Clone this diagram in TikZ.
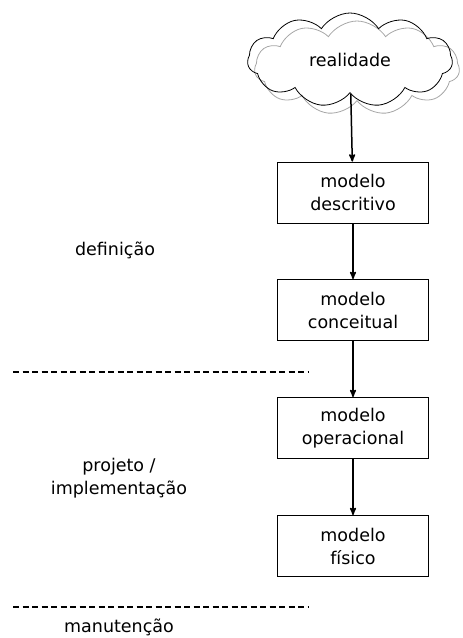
\documentclass[tikz,border=0pt]{standalone}
\usepackage{fontspec}
\setmainfont{DejaVu Sans}
\usepackage{tikz}
\usetikzlibrary{arrows, shapes.symbols}

\begin{document}
\begin{tikzpicture}[x=1pt,y=-1pt,
	modelbox/.style={draw, line width=0.8pt, minimum width=151pt, minimum height=61pt, align=center, font=\fontsize{17.5}{23}\selectfont},
	fase/.style={align=center, font=\fontsize{17.5}{23}\selectfont},
	divisa/.style={line width=1.6pt, dash pattern=on 6pt off 3.5pt}]
		\useasboundingbox (0,0) rectangle (463,638);

		% nuvem com sombra cinza
		\node(sombra) [cloud, cloud puffs=11, cloud puff arc=115, aspect=2.1, draw=gray!70, line width=0.8pt, minimum width=205pt, minimum height=94pt] at (357,68) {};
		\node(real) [cloud, cloud puffs=11, cloud puff arc=115, aspect=2.1, draw, line width=0.8pt, minimum width=205pt, minimum height=94pt, font=\fontsize{17.5}{23}\selectfont] at (350,60) {realidade};

		\node(desc)  [modelbox] at (353,192.5) {modelo\\descritivo};
		\node(conc)  [modelbox] at (353,310) {modelo\\conceitual};
		\node(oper)  [modelbox] at (353,428) {modelo\\operacional};
		\node(fis)   [modelbox] at (353,546) {modelo\\físico};

		\node(defin) [fase] at (115,250) {definição};
		\node(proj)  [fase] at (119,478) {projeto /\\implementação};
		\node(manut) [fase] at (119,627) {manutenção};

		\coordinate(d1a) at (13,372);
		\coordinate(d1b) at (309,372);
		\coordinate(d2a) at (13,607);
		\coordinate(d2b) at (309,607);
		\draw[divisa] (d1a) -- (d1b);
		\draw[divisa] (d2a) -- (d2b);

		\draw[->, >=stealth', line width=1.5pt] (real) -- (desc);
		\draw[->, >=stealth', line width=1.5pt] (desc) -- (conc);
		\draw[->, >=stealth', line width=1.5pt] (conc) -- (oper);
		\draw[->, >=stealth', line width=1.5pt] (oper) -- (fis);
\end{tikzpicture}
\end{document}
